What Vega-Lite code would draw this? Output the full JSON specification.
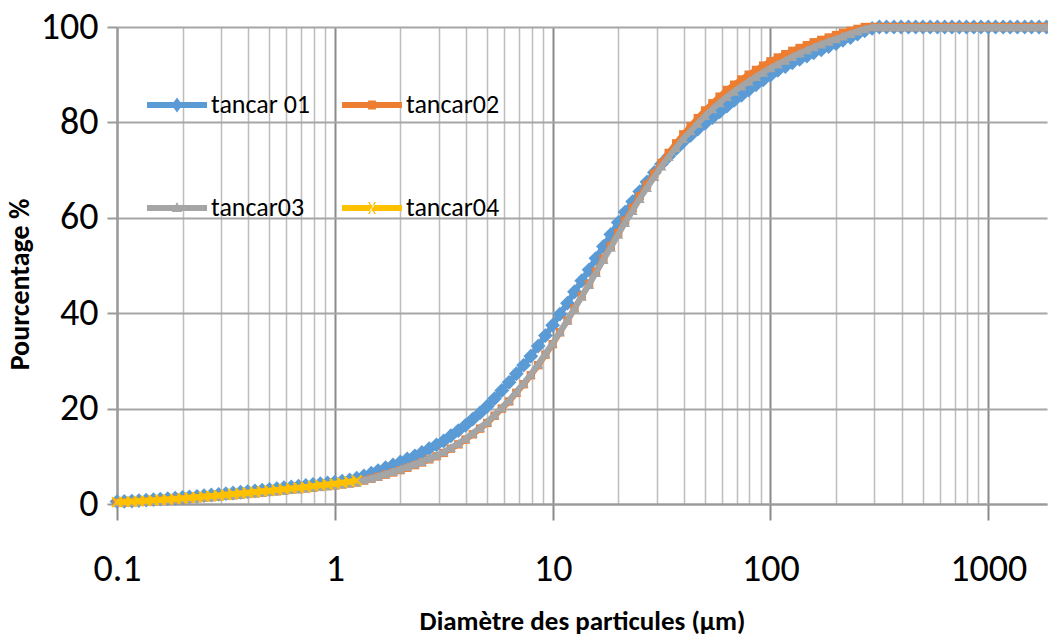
{
  "$schema": "https://vega.github.io/schema/vega-lite/v6.json",
  "width": 930,
  "height": 477,
  "autosize": {"type": "none"},
  "padding": {"left": 117, "top": 27, "right": 1, "bottom": 136},
  "background": "white",
  "config": {
    "view": {"stroke": null},
    "font": "Carlito, sans-serif"
  },
  "data": {"values": [
    {"x":0.1,"a":0.5,"b":0.3,"c":0.35,"d":0.4},
    {"x":0.108,"a":0.55,"b":0.33,"c":0.38,"d":0.44},
    {"x":0.117,"a":0.62,"b":0.39,"c":0.44,"d":0.5},
    {"x":0.126,"a":0.71,"b":0.46,"c":0.51,"d":0.58},
    {"x":0.136,"a":0.8,"b":0.53,"c":0.58,"d":0.66},
    {"x":0.147,"a":0.9,"b":0.62,"c":0.67,"d":0.76},
    {"x":0.158,"a":1.01,"b":0.71,"c":0.76,"d":0.86},
    {"x":0.171,"a":1.12,"b":0.8,"c":0.85,"d":0.96},
    {"x":0.185,"a":1.24,"b":0.91,"c":0.96,"d":1.07},
    {"x":0.2,"a":1.36,"b":1.01,"c":1.06,"d":1.18},
    {"x":0.215,"a":1.48,"b":1.11,"c":1.16,"d":1.3},
    {"x":0.233,"a":1.61,"b":1.23,"c":1.28,"d":1.42},
    {"x":0.251,"a":1.75,"b":1.35,"c":1.4,"d":1.55},
    {"x":0.271,"a":1.88,"b":1.46,"c":1.51,"d":1.67},
    {"x":0.293,"a":2.02,"b":1.59,"c":1.64,"d":1.8},
    {"x":0.316,"a":2.17,"b":1.72,"c":1.77,"d":1.94},
    {"x":0.341,"a":2.31,"b":1.84,"c":1.89,"d":2.08},
    {"x":0.369,"a":2.46,"b":1.98,"c":2.03,"d":2.22},
    {"x":0.398,"a":2.61,"b":2.11,"c":2.16,"d":2.36},
    {"x":0.43,"a":2.76,"b":2.24,"c":2.29,"d":2.5},
    {"x":0.464,"a":2.92,"b":2.39,"c":2.44,"d":2.65},
    {"x":0.501,"a":3.08,"b":2.53,"c":2.58,"d":2.8},
    {"x":0.541,"a":3.24,"b":2.67,"c":2.72,"d":2.96},
    {"x":0.584,"a":3.4,"b":2.82,"c":2.87,"d":3.11},
    {"x":0.631,"a":3.57,"b":2.97,"c":3.02,"d":3.27},
    {"x":0.681,"a":3.73,"b":3.11,"c":3.16,"d":3.42},
    {"x":0.736,"a":3.9,"b":3.27,"c":3.32,"d":3.58},
    {"x":0.794,"a":4.08,"b":3.43,"c":3.48,"d":3.75},
    {"x":0.858,"a":4.25,"b":3.58,"c":3.63,"d":3.92},
    {"x":0.926,"a":4.42,"b":3.74,"c":3.79,"d":4.08},
    {"x":1,"a":4.6,"b":3.9,"c":3.95,"d":4.25},
    {"x":1.08,"a":4.8,"b":4.1,"c":4.15,"d":4.45},
    {"x":1.17,"a":5.05,"b":4.3,"c":4.35,"d":4.68},
    {"x":1.26,"a":5.4,"b":4.5,"c":4.6,"d":4.95},
    {"x":1.36,"a":5.9,"b":4.9,"c":5.0},
    {"x":1.47,"a":6.45,"b":5.3,"c":5.4},
    {"x":1.58,"a":7.0,"b":5.7,"c":5.8},
    {"x":1.71,"a":7.6,"b":6.15,"c":6.3},
    {"x":1.85,"a":8.2,"b":6.6,"c":6.8},
    {"x":2,"a":8.8,"b":7.1,"c":7.3},
    {"x":2.15,"a":9.45,"b":7.6,"c":7.8},
    {"x":2.33,"a":10.1,"b":8.15,"c":8.35},
    {"x":2.51,"a":10.8,"b":8.7,"c":8.9},
    {"x":2.71,"a":11.6,"b":9.35,"c":9.55},
    {"x":2.93,"a":12.4,"b":10.0,"c":10.2},
    {"x":3.16,"a":13.2,"b":10.7,"c":10.9},
    {"x":3.41,"a":14.3,"b":11.6,"c":11.8},
    {"x":3.69,"a":15.4,"b":12.5,"c":12.7},
    {"x":3.98,"a":16.5,"b":13.5,"c":13.7},
    {"x":4.3,"a":17.8,"b":14.6,"c":14.8},
    {"x":4.64,"a":19.1,"b":15.8,"c":16.0},
    {"x":5.01,"a":20.5,"b":17.0,"c":17.2},
    {"x":5.41,"a":22.1,"b":18.5,"c":18.7},
    {"x":5.84,"a":23.8,"b":20.0,"c":20.2},
    {"x":6.31,"a":25.5,"b":21.5,"c":21.7},
    {"x":6.81,"a":27.3,"b":23.3,"c":23.5},
    {"x":7.36,"a":29.1,"b":25.1,"c":25.3},
    {"x":7.94,"a":31.0,"b":27.0,"c":27.2},
    {"x":8.58,"a":33.1,"b":29.1,"c":29.3},
    {"x":9.26,"a":35.3,"b":31.3,"c":31.5},
    {"x":10,"a":37.5,"b":33.5,"c":33.7},
    {"x":10.8,"a":39.8,"b":36.0,"c":36.1},
    {"x":11.7,"a":42.1,"b":38.5,"c":38.5},
    {"x":12.6,"a":44.5,"b":41.0,"c":41.0},
    {"x":13.6,"a":46.8,"b":43.6,"c":43.5},
    {"x":14.7,"a":49.1,"b":46.1,"c":46.0},
    {"x":15.8,"a":51.5,"b":48.7,"c":48.5},
    {"x":17.1,"a":54.0,"b":51.4,"c":51.2},
    {"x":18.5,"a":56.5,"b":54.1,"c":53.8},
    {"x":20,"a":59.0,"b":56.8,"c":56.5},
    {"x":21.5,"a":61.2,"b":59.4,"c":59.0},
    {"x":23.3,"a":63.4,"b":62.0,"c":61.5},
    {"x":25.1,"a":65.5,"b":64.5,"c":64.0},
    {"x":27.1,"a":67.5,"b":66.9,"c":66.3},
    {"x":29.3,"a":69.5,"b":69.2,"c":68.6},
    {"x":31.6,"a":71.3,"b":71.5,"c":70.8},
    {"x":34.1,"a":72.9,"b":73.6,"c":72.8},
    {"x":36.9,"a":74.5,"b":75.6,"c":74.7},
    {"x":39.8,"a":76.0,"b":77.5,"c":76.6},
    {"x":43,"a":77.3,"b":79.2,"c":78.2},
    {"x":46.4,"a":78.6,"b":80.9,"c":79.8},
    {"x":50.1,"a":79.8,"b":82.5,"c":81.4},
    {"x":54.1,"a":81.0,"b":84.0,"c":82.8},
    {"x":58.4,"a":82.2,"b":85.4,"c":84.1},
    {"x":63.1,"a":83.4,"b":86.8,"c":85.4},
    {"x":68.1,"a":84.6,"b":87.9,"c":86.5},
    {"x":73.6,"a":85.7,"b":89.0,"c":87.6},
    {"x":79.4,"a":86.8,"b":90.0,"c":88.6},
    {"x":85.8,"a":87.9,"b":91.0,"c":89.6},
    {"x":92.6,"a":88.9,"b":91.9,"c":90.5},
    {"x":100,"a":89.9,"b":92.8,"c":91.4},
    {"x":108,"a":90.9,"b":93.6,"c":92.2},
    {"x":117,"a":91.7,"b":94.3,"c":93.0},
    {"x":126,"a":92.5,"b":95.0,"c":93.8},
    {"x":136,"a":93.2,"b":95.6,"c":94.5},
    {"x":147,"a":93.9,"b":96.2,"c":95.2},
    {"x":158,"a":94.6,"b":96.8,"c":95.8},
    {"x":171,"a":95.2,"b":97.3,"c":96.4},
    {"x":185,"a":95.9,"b":97.8,"c":97.0},
    {"x":200,"a":96.5,"b":98.3,"c":97.5},
    {"x":215,"a":97.2,"b":98.8,"c":98.1},
    {"x":233,"a":97.8,"b":99.2,"c":98.6},
    {"x":251,"a":98.5,"b":99.6,"c":99.1},
    {"x":271,"a":99.2,"b":100,"c":99.6},
    {"x":293,"a":99.7,"b":100,"c":100},
    {"x":316,"a":100,"b":100,"c":100},
    {"x":341,"a":100,"b":100,"c":100},
    {"x":369,"a":100,"b":100,"c":100},
    {"x":398,"a":100,"b":100,"c":100},
    {"x":430,"a":100,"b":100,"c":100},
    {"x":464,"a":100,"b":100,"c":100},
    {"x":501,"a":100,"b":100,"c":100},
    {"x":541,"a":100,"b":100,"c":100},
    {"x":584,"a":100,"b":100,"c":100},
    {"x":631,"a":100,"b":100,"c":100},
    {"x":681,"a":100,"b":100,"c":100},
    {"x":736,"a":100,"b":100,"c":100},
    {"x":794,"a":100,"b":100,"c":100},
    {"x":858,"a":100,"b":100,"c":100},
    {"x":926,"a":100,"b":100,"c":100},
    {"x":1000,"a":100,"b":100,"c":100},
    {"x":1080,"a":100,"b":100,"c":100},
    {"x":1170,"a":100,"b":100,"c":100},
    {"x":1260,"a":100,"b":100,"c":100},
    {"x":1360,"a":100,"b":100,"c":100},
    {"x":1470,"a":100,"b":100,"c":100},
    {"x":1580,"a":100,"b":100,"c":100},
    {"x":1710,"a":100,"b":100,"c":100},
    {"x":1850,"a":100,"b":100,"c":100}
  ]},
  "transform": [
    {"fold": ["a", "b", "c", "d"], "as": ["s", "y"]},
    {"filter": "isValid(datum.y)"}
  ],
  "encoding": {
    "x": {
      "field": "x", "type": "quantitative",
      "scale": {"type": "log", "domain": [0.1, 1860], "nice": false},
      "axis": {
        "values": [0.1,0.2,0.3,0.4,0.5,0.6,0.7,0.8,0.9,1,2,3,4,5,6,7,8,9,10,20,30,40,50,60,70,80,90,100,200,300,400,500,600,700,800,900,1000],
        "format": "~g",
        "labelExpr": "indexof(['0.1','1','10','100','1000'], datum.label) >= 0 ? datum.label : ''",
        "grid": true,
        "gridColor": {"condition": {"test": "datum.value==0.1||datum.value==1||datum.value==10||datum.value==100||datum.value==1000", "value": "#8a8a8a"}, "value": "#bdbdbd"},
        "gridWidth": {"condition": {"test": "datum.value==0.1||datum.value==1||datum.value==10||datum.value==100||datum.value==1000", "value": 2}, "value": 1.5},
        "tickSize": 16,
        "tickColor": "#8a8a8a",
        "tickWidth": 2,
        "tickOpacity": {"condition": {"test": "datum.value==0.1||datum.value==1||datum.value==10||datum.value==100||datum.value==1000", "value": 1}, "value": 0},
        "domainColor": "#9a9a9a",
        "domainWidth": 2,
        "labelFontSize": 38,
        "labelColor": "#000000",
        "labelPadding": 30,
        "labelOverlap": false,
        "labelFlush": false,
        "title": "Diamètre des particules (µm)",
        "titleFontSize": 27,
        "titleFontWeight": "bold",
        "titleColor": "#000000",
        "titlePadding": 20
      }
    },
    "y": {
      "field": "y", "type": "quantitative",
      "scale": {"domain": [0, 100], "nice": false},
      "axis": {
        "values": [0, 20, 40, 60, 80, 100],
        "grid": true,
        "gridColor": "#a6a6a6",
        "gridWidth": 2,
        "tickSize": 10,
        "tickColor": "#9a9a9a",
        "tickWidth": 2,
        "domainColor": "#9a9a9a",
        "domainWidth": 2,
        "labelFontSize": 38,
        "labelColor": "#000000",
        "labelPadding": 9,
        "title": "Pourcentage %",
        "titleFontSize": 28,
        "titleFontWeight": "bold",
        "titleColor": "#000000",
        "titleX": -83,
        "titleY": 257
      }
    },
    "color": {
      "field": "s", "type": "nominal",
      "scale": {"domain": ["a", "b", "c", "d"], "range": ["#5B9BD5", "#ED7D31", "#A5A5A5", "#FFC000"]},
      "legend": {
        "orient": "none",
        "direction": "horizontal",
        "legendX": 30,
        "legendY": 48,
        "columns": 2,
        "title": null,
        "padding": 0,
        "symbolType": "stroke",
        "symbolSize": 3600,
        "symbolStrokeWidth": 6,
        "labelFontSize": 26,
        "labelColor": "#000000",
        "labelOffset": 4,
        "rowPadding": 60,
        "columnPadding": 31,
        "labelExpr": "{'a':'tancar 01','b':'tancar02','c':'tancar03','d':'tancar04'}[datum.label]",
        "encode": {"symbols": {"update": {
          "shape": {"signal": "datum.value=='a' ? 'M-1,-0.1H1V0.1H-1ZM0,-0.25L0.18,0L0,0.25L-0.18,0Z' : datum.value=='b' ? 'M-1,-0.1H1V0.1H-1ZM-0.13,-0.15H0.13V0.15H-0.13Z' : datum.value=='c' ? 'M-1,-0.1H1V0.1H-1ZM0,-0.2L0.17,0.13L-0.17,0.13Z' : 'M-1,-0.1H1V0.1H-1ZM-0.13,-0.2L-0.08,-0.2L0.13,0.2L0.08,0.2ZM0.13,-0.2L0.08,-0.2L-0.13,0.2L-0.08,0.2Z'"},
          "fill": {"scale": "color", "field": "value"},
          "fillOpacity": {"value": 1},
          "strokeWidth": {"value": 0}
        }}}
      }
    }
  },
  "layer": [
    {"transform": [{"filter": "datum.s=='a'"}], "mark": {"type": "line", "strokeWidth": 6}},
    {"transform": [{"filter": "datum.s=='a'"}], "mark": {"type": "point", "shape": "diamond", "filled": true, "size": 220, "opacity": 1}},
    {"transform": [{"filter": "datum.s=='b'"}], "mark": {"type": "line", "strokeWidth": 6}},
    {"transform": [{"filter": "datum.s=='b'"}], "mark": {"type": "point", "shape": "square", "filled": true, "size": 70, "opacity": 1}},
    {"transform": [{"filter": "datum.s=='c'"}], "mark": {"type": "line", "strokeWidth": 6}},
    {"transform": [{"filter": "datum.s=='c'"}], "mark": {"type": "point", "shape": "triangle-up", "filled": true, "size": 100, "opacity": 1}},
    {"transform": [{"filter": "datum.s=='d'"}], "mark": {"type": "line", "strokeWidth": 6}},
    {"transform": [{"filter": "datum.s=='d'"}], "mark": {"type": "point", "shape": "M-1,-1L1,1M-1,1L1,-1", "filled": false, "strokeWidth": 2, "size": 100, "opacity": 1}}
  ]
}
